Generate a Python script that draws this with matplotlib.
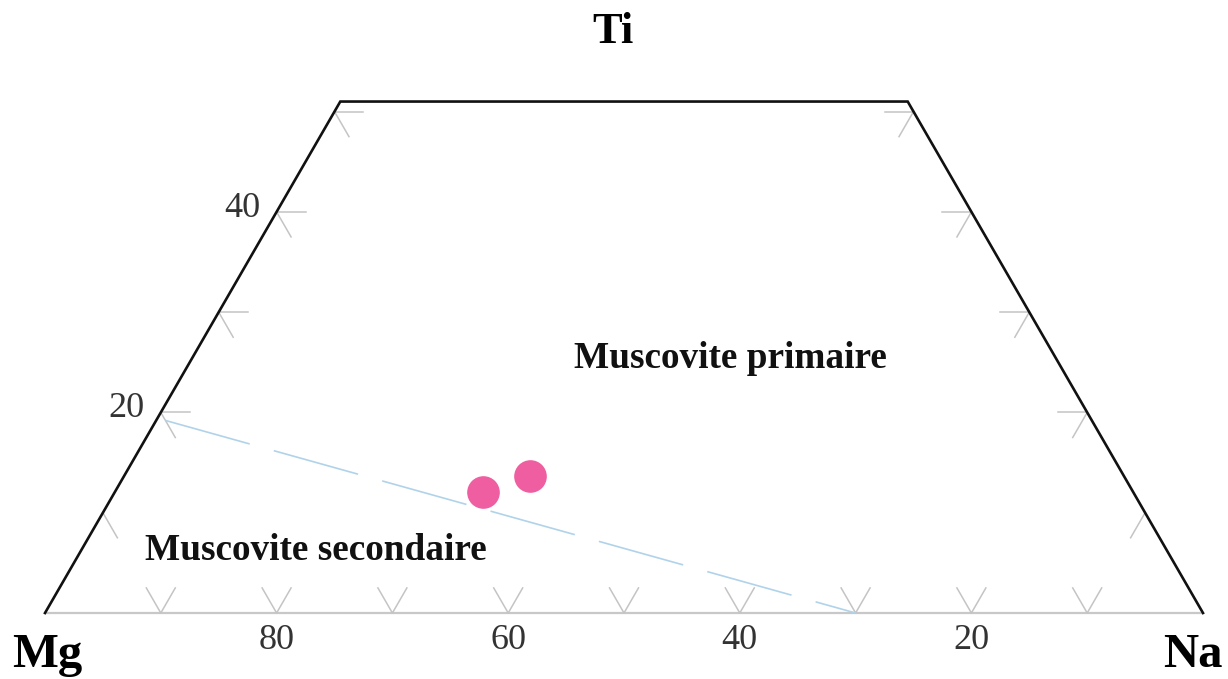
import numpy as np
import matplotlib
matplotlib.use("Agg")
import matplotlib.pyplot as plt

# Composition points (percent Mg, Na, Ti)
sample_mg = [56.1, 51.3]
sample_na = [31.8, 35.0]
sample_ti = [12.1, 13.7]

# Boundary between primary and secondary muscovite
boundary_mg = [80.0, 30]
boundary_na = [0.8, 70]
boundary_ti = [19.2, 0]

# Axis ticks
bottom_ticks = [90, 80, 70, 60, 50, 40, 30, 20, 10]      # Mg
bottom_labels = [80, 60, 40, 20]
side_ticks = [10, 20, 30, 40, 50]                        # Ti
side_labels = [20, 40]
ti_max = 51

corner_names = ["Mg", "Na", "Ti"]
region_names = ["Muscovite primaire", "Muscovite secondaire"]

S3 = np.sqrt(3) / 2


def tern(mg, na, ti):
    """Ternary (Mg, Na, Ti) -> cartesian, Mg at the origin, Na at (100, 0)."""
    na = np.asarray(na, dtype=float)
    ti = np.asarray(ti, dtype=float)
    return na + ti / 2, ti * S3


plt.rcParams["lines.scale_dashes"] = False
serif = ["Liberation Serif", "DejaVu Serif"]

fig = plt.figure(figsize=(12.28, 6.79), dpi=100)
ax = fig.add_axes([0, 0, 1, 1])
scale = 11.58  # pixels per percent
ax.set_xlim(-45 / scale, (1228 - 45) / scale)
ax.set_ylim(-(679 - 613) / scale, 613 / scale)
ax.axis("off")

tick_col = "#c4c4c4"
tl = 2.5  # tick length in percent

# Bottom (Mg-Na) axis with V-shaped ticks
x0, y0 = tern(100, 0, 0)
x1, y1 = tern(0, 100, 0)
ax.plot([x0, x1], [y0, y1], color="#c8c8c8", lw=1.6, solid_capstyle="butt", zorder=1)
for m in bottom_ticks:
    x, y = tern(m, 100 - m, 0)
    ax.plot([x - tl * 0.5, x, x + tl * 0.5], [y + tl * S3, y, y + tl * S3],
            color=tick_col, lw=1.1, zorder=1)

# Left and right sides, with their ticks
for t in side_ticks:
    xl, yl = tern(100 - t, 0, t)
    xr, yr = tern(0, 100 - t, t)
    ax.plot([xl + tl * 0.5, xl], [yl - tl * S3, yl], color=tick_col, lw=1.1, zorder=1)
    ax.plot([xr - tl * 0.5, xr], [yr - tl * S3, yr], color=tick_col, lw=1.1, zorder=1)
    if t > 10:
        ax.plot([xl, xl + tl], [yl, yl], color=tick_col, lw=1.1, zorder=1)
        ax.plot([xr, xr - tl], [yr, yr], color=tick_col, lw=1.1, zorder=1)

ex, ey = tern([100, 100 - ti_max, 0, 0], [0, 0, 100 - ti_max, 100], [0, ti_max, ti_max, 0])
ax.plot(ex, ey, color="#111111", lw=1.9, solid_joinstyle="miter", zorder=3)

# Tick labels
for m in bottom_labels:
    x, y = tern(m, 100 - m, 0)
    ax.text(x, y - 2.35, str(m), ha="center", va="center", fontsize=26,
            family=serif, color="#333333")
for t in side_labels:
    x, y = tern(100 - t, 0, t)
    ax.text(x - 1.4, y + 0.3, str(t), ha="right", va="center", fontsize=26,
            family=serif, color="#333333")

# Boundary line
bx, by = tern(boundary_mg, boundary_na, boundary_ti)
ax.plot(bx, by, color="#b0d3ea", lw=1.2, dashes=[63, 18], zorder=2)

# Samples
sx, sy = tern(sample_mg, sample_na, sample_ti)
ax.plot(sx, sy, "o", ms=23.5, color="#ee5ea0", mec="none", zorder=4)

# Region labels
px, py = tern(28.1, 46.5, 25.4)
ax.text(px, py, region_names[0], ha="center", va="center", fontsize=26.8,
        fontweight="bold", family=serif, color="#111111")
qx, qy = tern(73.5, 20.3, 6.2)
ax.text(qx, qy, region_names[1], ha="center", va="center", fontsize=26.8,
        fontweight="bold", family=serif, color="#111111")

# Corner labels
ax.text(49.05, 50.2, corner_names[2], ha="center", va="center",
        fontsize=32, fontweight="bold", family=serif, color="#000000")
ax.text(0.2, -3.6, corner_names[0], ha="center", va="center",
        fontsize=35, fontweight="bold", family=serif, color="#000000")
ax.text(99.1, -3.6, corner_names[1], ha="center", va="center",
        fontsize=35, fontweight="bold", family=serif, color="#000000")

fig.savefig("out.png", dpi=100, facecolor="white")
